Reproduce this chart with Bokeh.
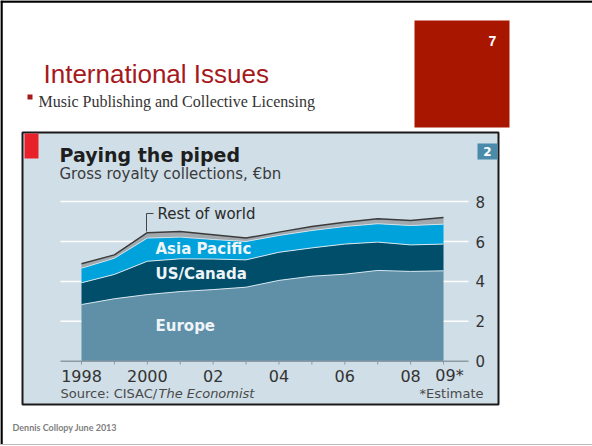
from bokeh.plotting import figure
from bokeh.models import Range1d
from bokeh.core.properties import value
from bokeh.embed import file_html
from bokeh.resources import INLINE
import numpy as np

# ---------------- data ----------------
years = [1998, 1999, 2000, 2001, 2002, 2003, 2004, 2005, 2006, 2007, 2008, 2009]
europe = [2.84, 3.13, 3.34, 3.49, 3.59, 3.71, 4.05, 4.26, 4.36, 4.55, 4.50, 4.53]
us_canada = [1.09, 1.22, 1.67, 1.64, 1.53, 1.37, 1.41, 1.42, 1.51, 1.42, 1.33, 1.34]
asia_pacific = [0.73, 0.81, 1.16, 1.09, 0.98, 0.92, 0.84, 0.87, 0.88, 0.92, 0.97, 1.00]
rest_of_world = [0.22, 0.17, 0.27, 0.28, 0.24, 0.17, 0.17, 0.20, 0.22, 0.25, 0.25, 0.33]
series_names = ["Europe", "US/Canada", "Asia Pacific", "Rest of world"]

y_ticks = [0, 2, 4, 6, 8]
y_tick_labels = ["0", "2", "4", "6", "8"]
x_tick_years = [1998, 2000, 2002, 2004, 2006, 2008, 2009]
x_tick_labels = ["1998", "2000", "02", "04", "06", "08", "09*"]

# ---------------- geometry helpers (page pixels -> data) ----------------
PX = 32.91   # px per year
PY = 19.95   # px per unit
X98 = 81.0   # pixel x of 1998
Y0 = 360.7   # pixel y (from top) of value 0


def fx(px):
    return 1998 + (px - X98) / PX


def fy(py):
    return (Y0 - py) / PY


W, H = 592, 446
p = figure(width=W, height=H, x_range=Range1d(fx(0), fx(W)), y_range=Range1d(fy(H), fy(0)),
           output_backend="svg", toolbar_location=None, min_border=0,
           x_axis_type=None, y_axis_type=None)
p.grid.visible = False
p.outline_line_color = None
p.background_fill_color = "white"
p.border_fill_color = "white"

# ---------------- slide decorations ----------------
p.segment(x0=[fx(0)], y0=[fy(1)], x1=[fx(W)], y1=[fy(1)], line_color="black", line_width=2.5)
p.segment(x0=[fx(1)], y0=[fy(0)], x1=[fx(1)], y1=[fy(444)], line_color="black", line_width=2.5)
p.segment(x0=[fx(0)], y0=[fy(444)], x1=[fx(W)], y1=[fy(444)], line_color="#BBBBBB", line_width=1)

# red box with page number
p.quad(left=[fx(414)], right=[fx(509)], top=[fy(20)], bottom=[fy(127)], fill_color="#A91600", line_color=None)
p.text(x=[fx(492)], y=[fy(40)], text=["7"], text_color="white", text_font=value("Liberation Sans"),
       text_font_size="14px", text_font_style="bold", text_align="center", text_baseline="middle")

# slide title
p.text(x=[fx(43)], y=[fy(73)], text=["International Issues"], text_color="#A5191C",
       text_font=value("Liberation Sans"), text_font_size="26px", text_baseline="alphabetic")
# bullet
p.quad(left=[fx(27)], right=[fx(32)], top=[fy(94)], bottom=[fy(99)], fill_color="#A5191C", line_color=None)
p.text(x=[fx(38)], y=[fy(101)], text=["Music Publishing and Collective Licensing"], text_color="#333333",
       text_font=value("Liberation Serif"), text_font_size="16px", text_baseline="alphabetic")

# footer
p.text(x=[fx(12)], y=[fy(427)], text=["Dennis Collopy June 2013"], text_color="#808080",
       text_font=value("Lato"), text_font_size="9px", text_font_style="bold", text_baseline="middle")

# ---------------- chart panel ----------------
p.quad(left=[fx(22)], right=[fx(498)], top=[fy(132)], bottom=[fy(404)], fill_color="#CFDEE7",
       line_color="#1A1A1A", line_width=2)
p.quad(left=[fx(24)], right=[fx(38)], top=[fy(133)], bottom=[fy(158)], fill_color="#E8202A", line_color=None)
p.quad(left=[fx(477)], right=[fx(497)], top=[fy(143)], bottom=[fy(159)], fill_color="#4A8AAA", line_color=None)
p.text(x=[fx(487)], y=[fy(151)], text=["2"], text_color="white", text_font=value("DejaVu Sans"),
       text_font_size="12px", text_font_style="bold", text_align="center", text_baseline="middle")

FONT = value("DejaVu Sans")
p.text(x=[fx(59)], y=[fy(154)], text=["Paying the piped"], text_color="#1E1E1E", text_font=FONT,
       text_font_size="19px", text_font_style="bold", text_baseline="middle")
p.text(x=[fx(59)], y=[fy(173)], text=["Gross royalty collections, €bn"], text_color="#3A3A3A", text_font=FONT,
       text_font_size="15px", text_baseline="middle")

# gridlines
gx0, gx1 = fx(60), fx(468)
p.segment(x0=[gx0] * len(y_ticks[1:]), x1=[gx1] * len(y_ticks[1:]), y0=y_ticks[1:], y1=y_ticks[1:],
          line_color="white", line_width=1.5)

# stacked areas
e_top = np.array(europe)
u_top = e_top + np.array(us_canada)
a_top = u_top + np.array(asia_pacific)
r_top = a_top + np.array(rest_of_world)
base = np.zeros(len(years))

p.varea(x=years, y1=base, y2=e_top, fill_color="#5F90A8")
p.varea(x=years, y1=e_top, y2=u_top, fill_color="#004E6A")
p.varea(x=years, y1=u_top, y2=a_top, fill_color="#00A2DB")
p.varea(x=years, y1=a_top, y2=r_top, fill_color="#A2A9AE")
p.line(x=years, y=e_top, line_color="#D6E6EE", line_width=1)
p.line(x=years, y=u_top, line_color="#D6E6EE", line_width=1)
p.line(x=years, y=a_top, line_color="#E6EEF2", line_width=0.8)
p.line(x=years, y=r_top, line_color="#3C3C3C", line_width=1.5)

# baseline and ticks
p.segment(x0=[gx0], x1=[gx1], y0=[0], y1=[0], line_color="#8B9AA3", line_width=1.5)
p.segment(x0=years, x1=years, y0=[0] * len(years), y1=[fy(364)] * len(years), line_color="#8B9AA3",
          line_width=1)

# tick labels
p.text(x=[fx(475)] * len(y_ticks), y=y_ticks, text=y_tick_labels, text_color="#333333", text_font=FONT,
       text_font_size="15px", text_baseline="middle", text_align="left")
x_offsets = [6 if s.endswith("*") else 0 for s in x_tick_labels]
p.text(x=x_tick_years, y=[fy(375)] * len(x_tick_years), text=x_tick_labels, x_offset=x_offsets,
       text_color="#333333", text_font=FONT, text_font_size="16px", text_baseline="middle", text_align="center")

# series labels
p.text(x=[fx(155)] * 3, y=[fy(248), fy(273), fy(325)], text=[series_names[2], series_names[1], series_names[0]],
       text_color="#EEF4F8", text_font=FONT, text_font_size="15px", text_font_style="bold",
       text_baseline="middle")
p.segment(x0=[fx(146), fx(146)], y0=[fy(231), fy(213)], x1=[fx(146), fx(153)], y1=[fy(213), fy(213)],
          line_color="#444444", line_width=1)
p.text(x=[fx(157)], y=[fy(213)], text=[series_names[3]], text_color="#2A2A2A", text_font=FONT,
       text_font_size="15px", text_baseline="middle")

# source & note
p.text(x=[fx(60)], y=[fy(393)], text=["Source: CISAC/"], text_color="#4A4A4A", text_font=FONT,
       text_font_size="13px", text_baseline="middle")
p.text(x=[fx(158)], y=[fy(393)], text=["The Economist"], text_color="#4A4A4A", text_font=FONT,
       text_font_size="13px", text_font_style="italic", text_baseline="middle")
p.text(x=[fx(483)], y=[fy(393)], text=["*Estimate"], text_color="#4A4A4A", text_font=FONT,
       text_font_size="13px", text_baseline="middle", text_align="right")

open("out.html", "w").write(file_html(p, INLINE))
